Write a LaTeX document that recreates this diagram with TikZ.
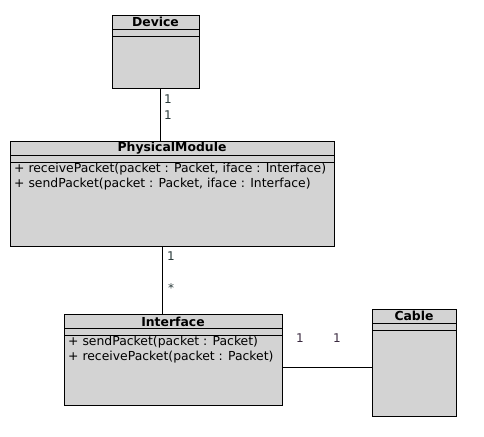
\documentclass[tikz,border=0pt]{standalone}
\usepackage{fontspec}
\setmainfont{DejaVu Sans}
\usepackage{tikz}
\usetikzlibrary{calc,positioning}
\definecolor{boxfill}{HTML}{D3D3D3}
\definecolor{mult}{HTML}{2A3A3A}
\definecolor{multb}{HTML}{3A2A40}

\begin{document}
\begin{tikzpicture}[x=1pt,y=-1pt,font=\fontsize{12.4}{14}\selectfont,
  classbox/.style={draw=black,fill=boxfill,line width=0.9pt,anchor=north west,inner sep=0pt,outer sep=0pt},
  classname/.style={font=\fontsize{12.4}{14}\selectfont\bfseries,anchor=center,inner sep=0pt},
  member/.style={anchor=west,inner sep=0pt},
  multlabel/.style={text=mult,inner sep=0pt,font=\fontsize{12}{14}\selectfont}]
\useasboundingbox (0,0) rectangle (484,436);
% class boxes: name/left/top/width/height/title centre
\foreach \nm/\x/\y/\w/\h/\ty in {Device/112/15/87/73/22,PhysicalModule/10/141/324/105/148,Interface/64/314/218/91/321.5,Cable/372/309/84/107/316} {
  \node[classbox,minimum width=\w pt,minimum height=\h pt] (\nm) at (\x,\y) {};
  \node[classname] (\nm-title) at ($(\nm.north west)!0.5!(\nm.north east)+(0,\ty-\y)$) {\nm};
  % two compartments under the title
  \draw[line width=0.9pt] ($(\nm.north west)+(0,14)$) -- ($(\nm.north east)+(0,14)$);
  \draw[line width=0.9pt] ($(\nm.north west)+(0,21)$) -- ($(\nm.north east)+(0,21)$);
}
% operations
\node[member] (pm-op1) at (14,169) {+ receivePacket(packet : Packet, iface : Interface)};
\node[member] (pm-op2) at (14,184) {+ sendPacket(packet : Packet, iface : Interface)};
\node[member] (if-op1) at (68,342) {+ sendPacket(packet : Packet)};
\node[member] (if-op2) at (68,357) {+ receivePacket(packet : Packet)};
% associations
\draw[line width=0.9pt] ([xshift=4.5pt]Device.south) -- ([xshift=4.5pt]Device.south |- PhysicalModule.north);
\draw[line width=0.9pt] ([xshift=-10pt]PhysicalModule.south) -- ([xshift=-10pt]PhysicalModule.south |- Interface.north);
\draw[line width=0.9pt] ([yshift=-7.5pt]Interface.east) -- ([yshift=-7.5pt]Interface.east -| Cable.west);
% multiplicities
\node[multlabel] (m-dev) at (168,99) {1};
\node[multlabel] (m-pm1) at (168,115) {1};
\node[multlabel] (m-pm2) at (171,256) {1};
\node[multlabel] (m-if1) at (171,288) {*};
\node[multlabel,text=multb] (m-if2) at (300,338) {1};
\node[multlabel,text=multb] (m-cab) at (337,338) {1};
\end{tikzpicture}
\end{document}
